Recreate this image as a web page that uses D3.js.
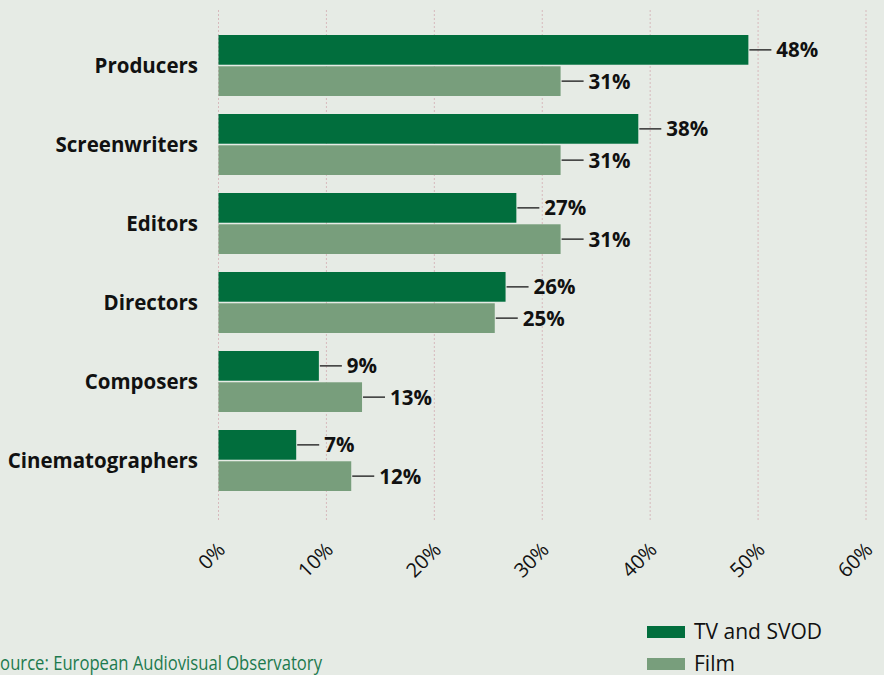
<!DOCTYPE html>
<html>
<head>
<meta charset="utf-8">
<script src="https://cdn.jsdelivr.net/npm/d3@7"></script>
<style>
  html, body { margin: 0; padding: 0; background: #e6ebe5; }
  svg { display: block; }
</style>
</head>
<body>
<script>
'use strict';

// categories top to bottom
const roles = ["Producers", "Screenwriters", "Editors", "Directors", "Composers", "Cinematographers"];
// bar lengths as drawn (%)
const tvValues = [49.1, 38.9, 27.6, 26.6, 9.3, 7.2];
const filmValues = [31.7, 31.7, 31.7, 25.6, 13.3, 12.3];
// printed labels
const tvLabels = ["48%", "38%", "27%", "26%", "9%", "7%"];
const filmLabels = ["31%", "31%", "31%", "25%", "13%", "12%"];
const xTicks = [0, 10, 20, 30, 40, 50, 60];
const seriesNames = ["TV and SVOD", "Film"];
const sourceText = "Source: European Audiovisual Observatory";

const W = 884, H = 675;
const tvColor = "#016e3d", filmColor = "#789e7c";
const textFont = "'Open Sans', 'Noto Sans', sans-serif";

const svg = d3.select("body").append("svg")
  .attr("width", W)
  .attr("height", H);

svg.append("rect").attr("width", W).attr("height", H).attr("fill", "#e6ebe5");

const x = d3.scaleLinear().domain([0, 60]).range([218.5, 866]);
const y = d3.scaleBand().domain(roles).range([26, 500])
  .paddingInner(0.228).paddingOuter(0.114);
const sub = d3.scaleBand().domain(["tv", "film"]).range([0, y.bandwidth()]).paddingInner(0.05);

// dotted gridlines
svg.append("g").selectAll("line")
  .data(xTicks)
  .join("line")
  .attr("x1", d => x(d)).attr("x2", d => x(d))
  .attr("y1", 10).attr("y2", 522)
  .attr("stroke", "#d7b9bc")
  .attr("stroke-width", 1)
  .attr("stroke-dasharray", "2,2");

// rotated tick labels
svg.append("g").selectAll("text")
  .data(xTicks)
  .join("text")
  .attr("transform", d => "translate(" + (x(d) + 8) + ",551) rotate(-45)")
  .attr("text-anchor", "end")
  .style("font-family", textFont)
  .style("font-size", "20px")
  .attr("fill", "#111")
  .text(d => d + "%");

// build row table for both series
const rows = [];
roles.forEach((r, i) => {
  rows.push({ role: r, key: "tv", v: tvValues[i], label: tvLabels[i], color: tvColor });
  rows.push({ role: r, key: "film", v: filmValues[i], label: filmLabels[i], color: filmColor });
});

const barY = d => y(d.role) + sub(d.key);
const midY = d => barY(d) + sub.bandwidth() / 2;

svg.append("g").selectAll("rect")
  .data(rows)
  .join("rect")
  .attr("x", x(0))
  .attr("y", barY)
  .attr("width", d => x(d.v) - x(0))
  .attr("height", sub.bandwidth())
  .attr("fill", d => d.color);

// leader lines
svg.append("g").selectAll("line")
  .data(rows)
  .join("line")
  .attr("x1", d => x(d.v) + 1)
  .attr("x2", d => x(d.v) + 23)
  .attr("y1", midY).attr("y2", midY)
  .attr("stroke", "#333")
  .attr("stroke-width", 1.5);

svg.append("g").selectAll("text")
  .data(rows)
  .join("text")
  .attr("x", d => x(d.v) + 28)
  .attr("y", midY)
  .attr("dy", "0.36em")
  .style("font-family", textFont)
  .style("font-weight", "bold")
  .style("font-size", "20.5px")
  .attr("fill", "#111")
  .text(d => d.label);

// category labels
svg.append("g").selectAll("text")
  .data(roles)
  .join("text")
  .attr("x", 198)
  .attr("y", d => y(d) + y.bandwidth() / 2)
  .attr("dy", "0.36em")
  .attr("text-anchor", "end")
  .style("font-family", textFont)
  .style("font-weight", "bold")
  .style("font-size", "20.5px")
  .attr("fill", "#111")
  .text(d => d);

// legend
const legend = svg.append("g");
const legendColors = [tvColor, filmColor];
seriesNames.forEach((name, i) => {
  legend.append("rect")
    .attr("x", 647).attr("y", 626 + i * 32)
    .attr("width", 38).attr("height", 12)
    .attr("fill", legendColors[i]);
  legend.append("text")
    .attr("x", 694).attr("y", 639 + i * 32)
    .style("font-family", textFont)
    .style("font-size", "21px")
    .attr("fill", "#111")
    .text(name);
});

// source note (starts off the left edge like the original), condensed
svg.append("text")
  .attr("x", -9).attr("y", 670)
  .attr("textLength", 331)
  .attr("lengthAdjust", "spacingAndGlyphs")
  .style("font-family", textFont)
  .style("font-size", "20px")
  .attr("fill", "#1d7a4e")
  .text(sourceText);
</script>
</body>
</html>
